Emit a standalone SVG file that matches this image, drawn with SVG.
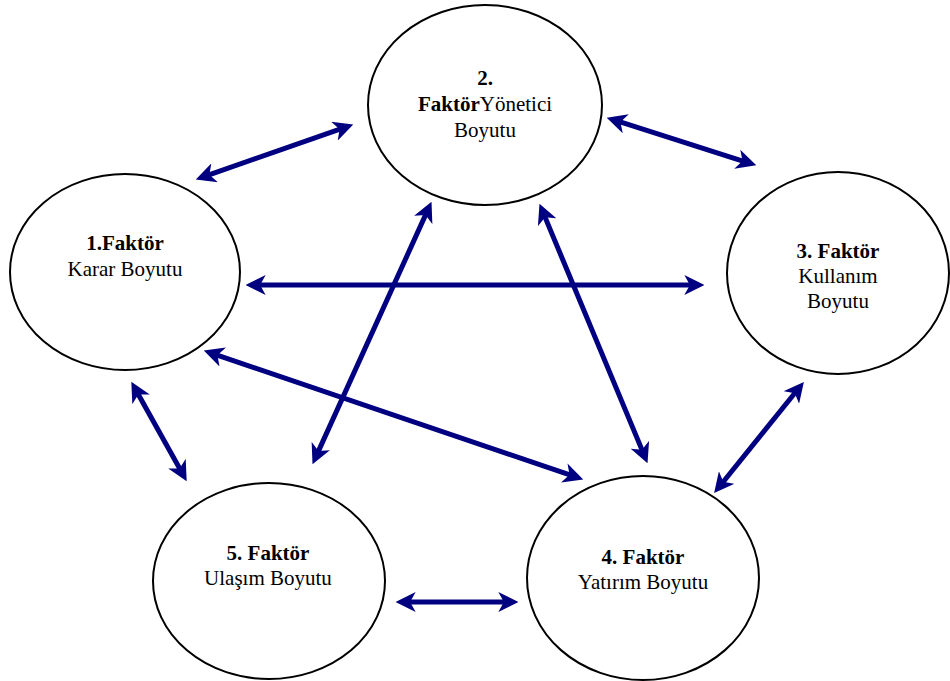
<svg xmlns="http://www.w3.org/2000/svg" width="950" height="681" viewBox="0 0 950 681">
<style>
.node ellipse{fill:#fff;stroke:#000;stroke-width:2}
.node text{font-size:21px;fill:#000;text-anchor:middle}
.b{font-weight:bold}
.c line{stroke:#000080;stroke-width:5;marker-start:url(#ah);marker-end:url(#ah)}
</style>
<defs>
<marker id="ah" markerUnits="userSpaceOnUse" viewBox="0 0 18 18" markerWidth="20" markerHeight="20" refX="6" refY="9" orient="auto-start-reverse">
<path d="M0,0 L18,9 L0,18 L5,9 z" fill="#000080"/>
</marker>
</defs>
<rect width="950" height="681" fill="#fff"/>
<g id="n2" class="node"><ellipse cx="485" cy="105" rx="117" ry="100"/>
<text x="485" y="85" class="b" font-family="Liberation Serif">2.</text>
<text x="485" y="111" font-family="Liberation Serif"><tspan class="b">Faktör</tspan>Yönetici</text>
<text x="485" y="137" font-family="Liberation Serif">Boyutu</text></g>
<g id="n1" class="node"><ellipse cx="125" cy="272" rx="115" ry="98"/>
<text x="125" y="250" class="b" font-family="Liberation Serif">1.Faktör</text>
<text x="125" y="276" font-family="Liberation Serif">Karar Boyutu</text></g>
<g id="n3" class="node"><ellipse cx="838" cy="273" rx="111" ry="101"/>
<text x="838" y="258" class="b" font-family="Liberation Serif">3. Faktör</text>
<text x="838" y="283" font-family="Liberation Serif">Kullanım</text>
<text x="838" y="308" font-family="Liberation Serif">Boyutu</text></g>
<g id="n5" class="node"><ellipse cx="269" cy="581" rx="116" ry="98"/>
<text x="268" y="560" class="b" font-family="Liberation Serif">5. Faktör</text>
<text x="268" y="585" font-family="Liberation Serif">Ulaşım Boyutu</text></g>
<g id="n4" class="node"><ellipse cx="643" cy="578" rx="116" ry="102"/>
<text x="643" y="564" class="b" font-family="Liberation Serif">4. Faktör</text>
<text x="643" y="589" font-family="Liberation Serif">Yatırım Boyutu</text></g>
<g id="connectors" class="c">
<line x1="208.3" y1="175.05" x2="340.7" y2="128.95"/>
<line x1="619.4" y1="121.7" x2="743.6" y2="161.3"/>
<line x1="259" y1="285" x2="691" y2="285"/>
<line x1="216.4" y1="354.9" x2="570.6" y2="475.1"/>
<line x1="137.8" y1="393.5" x2="180.2" y2="469.5"/>
<line x1="426" y1="213.9" x2="318" y2="452.1"/>
<line x1="544.6" y1="216.1" x2="642.4" y2="450.9"/>
<line x1="409" y1="602" x2="505" y2="602"/>
<line x1="722.5" y1="482.7" x2="795.5" y2="392.3"/>
</g>
</svg>
